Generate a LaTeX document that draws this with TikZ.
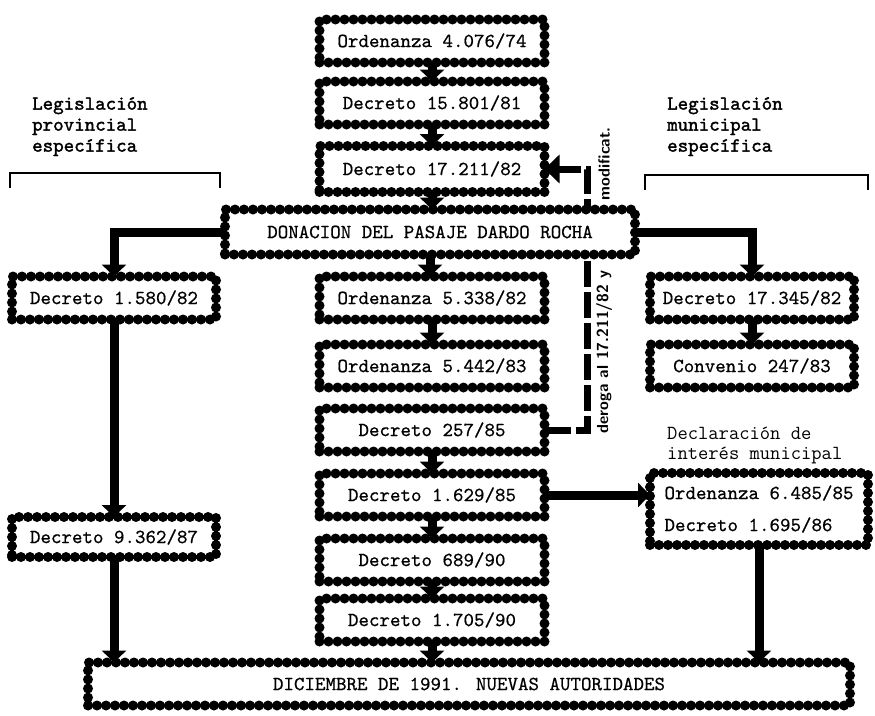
\documentclass[tikz,border=0pt]{standalone}
\usepackage{fontspec}
\usetikzlibrary{arrows.meta,backgrounds}

\newfontfamily\cajafamily{lmmono10-regular}[Extension=.otf, FakeBold=0.6]
\newfontfamily\titulofamily{lmmono10-regular}[Extension=.otf, FakeBold=1.6]
\newcommand\cajafont{\fontsize{20}{24}\selectfont\cajafamily\bfseries}

\tikzset{
  caja/.style={draw, fill=white, line width=10pt, dash pattern=on 0pt off 9pt, line cap=round,
    outer sep=0pt, inner sep=0pt, minimum height=43pt, font=\cajafont},
  central/.style={caja, minimum width=225pt},
  lateral/.style={caja, minimum width=204pt},
  flecha/.style={line width=9pt, -{Triangle[length=12pt,width=24pt]}},
  enlace/.style={line width=7pt, dash pattern=on 26pt off 5pt, -{Triangle[length=15pt,width=28pt]}},
  titulo/.style={font=\fontsize{20}{21}\selectfont\titulofamily\bfseries, align=left, inner sep=0pt},
  rotulo/.style={font=\fontsize{16}{18}\selectfont\sffamily\bfseries, inner sep=0pt, rotate=90},
  llave/.style={line width=2pt}
}

\begin{document}
\begin{tikzpicture}[x=1pt, y=-1pt]
\useasboundingbox (0,0) rectangle (875,715);

% Define the central column
\node[central] (ord4076) at (432,41) {Ordenanza 4.076/74};
\node[central] (dec15801) at (432,103) {Decreto 15.801/81};
\node[central, minimum height=46pt] (dec17211) at (432,169) {Decreto 17.211/82};
\node[caja, minimum width=410pt, minimum height=45pt] (donacion) at (430,232) {DONACION DEL PASAJE DARDO ROCHA};
\node[central] (ord5338) at (432,298) {Ordenanza 5.338/82};
\node[central] (ord5442) at (432,366) {Ordenanza 5.442/83};
\node[central] (dec257) at (432,430) {Decreto 257/85};
\node[central] (dec1629) at (432,495) {Decreto 1.629/85};
\node[central] (dec689) at (432,560) {Decreto 689/90};
\node[central] (dec1705) at (432,620) {Decreto 1.705/90};
\node[caja, minimum width=762pt] (diciembre) at (469,684) {DICIEMBRE DE 1991. NUEVAS AUTORIDADES};

% Define the provincial column
\node[titulo, anchor=north west] (legprov) at (32,97) {Legislación\\provincial\\específica};
\draw[llave] (10,188) |- (220,173) -- (220,188);
\node[lateral] (dec1580) at (114,298) {Decreto 1.580/82};
\node[lateral, minimum height=40pt] (dec9362) at (114,537) {Decreto 9.362/87};

% Define the municipal column
\node[titulo, anchor=north west] (legmun) at (667,97) {Legislación\\municipal\\específica};
\draw[llave] (645,190) |- (868,175) -- (868,190);
\node[lateral] (dec17345) at (752,298) {Decreto 17.345/82};
\node[lateral] (conv247) at (752,366) {Convenio 247/83};
\node[caja, minimum width=218pt, minimum height=72pt, align=left] (ord6485) at (759,509) {Ordenanza 6.485/85\\[8pt]Decreto 1.695/86};
\node[font=\fontsize{20}{20}\selectfont\ttfamily, align=left, inner sep=0pt, anchor=north west] (interes) at (667,427) {Declaración de\\interés municipal};

% Draw the dashed link behind the boxes
\coordinate (giro) at (587,430);
\begin{scope}[on background layer]
\draw[enlace] (dec257.east) -- (giro) |- (dec17211.east);
\end{scope}
\node[rotulo] (modif) at (604,164) {modificat.};
\node[rotulo] (deroga) at (604,352) {deroga al 17.211/82 y};

% Draw the arrows
\foreach \a/\b in {ord4076/dec15801, dec15801/dec17211, dec17211/donacion, donacion/ord5338,
  ord5338/ord5442, dec257/dec1629, dec1629/dec689, dec689/dec1705, dec1705/diciembre,
  dec17345/conv247, dec1580/dec9362, dec9362/diciembre, ord6485/diciembre}
  \draw[flecha] (\a.south) -- (\a.south |- \b.north);
\draw[flecha] (donacion.west) -| (dec1580.north);
\draw[flecha] (donacion.east) -| (dec17345.north);
\draw[flecha] (dec1629.east) -- (dec1629.east -| ord6485.west);
\end{tikzpicture}
\end{document}
